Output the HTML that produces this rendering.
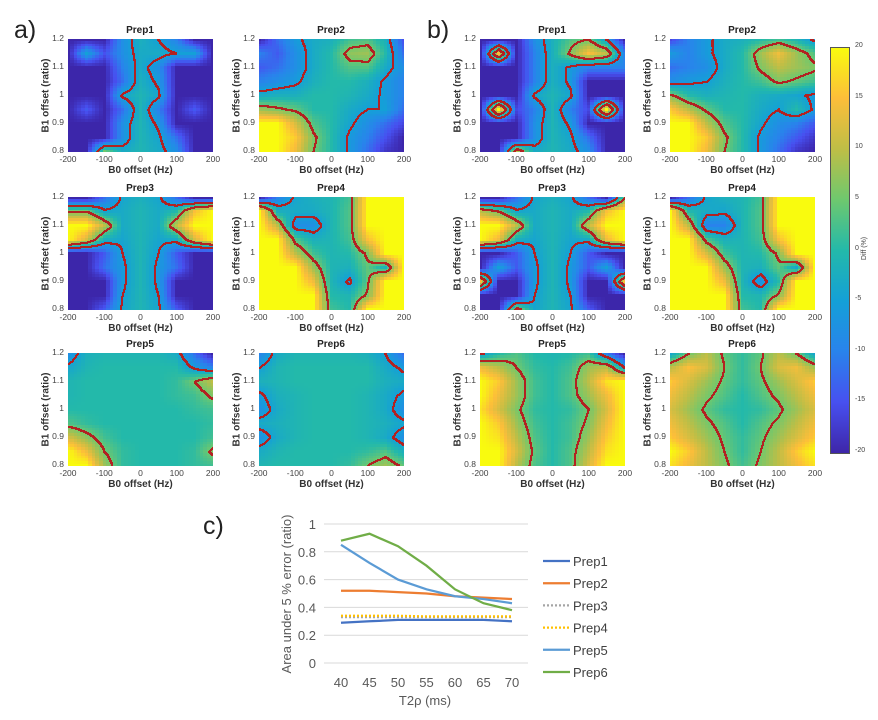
<!DOCTYPE html>
<html><head><meta charset="utf-8"><style>
body{margin:0;background:#fff;width:878px;height:720px;overflow:hidden;position:relative;font-family:"Liberation Sans",Arial,sans-serif}
.abs{position:absolute}
.lbl{position:absolute;font-size:25px;color:#222}
.ttl{position:absolute;font-size:10px;font-weight:bold;color:#222;text-align:center;width:144px}
.tk{position:absolute;font-size:8.5px;color:#444;white-space:nowrap}
.axt{position:absolute;font-size:10px;font-weight:bold;color:#333;white-space:nowrap}
canvas{position:absolute;image-rendering:pixelated}
</style></head><body>
<div class="lbl" style="left:14px;top:16px">a)</div>
<div class="lbl" style="left:427px;top:16px">b)</div>
<div class="lbl" style="left:203px;top:512px">c)</div>
<div id="maps"></div>

<div class="abs" style="left:830px;top:47px;width:18px;height:405px;border:1px solid #555;background:linear-gradient(to top,#3e26a8 0%,#4750f0 12.5%,#2983ec 25%,#14a0d7 37.5%,#23b9aa 50%,#6ec86e 62.5%,#bebe46 75%,#fcbe3a 87.5%,#f9fb0e 100%)"></div>
<div id="cbticks"></div>
<div class="abs" style="left:853px;top:245px;font-size:7px;color:#444;transform:rotate(-90deg);white-space:nowrap">Diff (%)</div>

<svg id="lc" class="abs" style="left:0;top:0" width="878" height="720"></svg>

<script>
// ---------- heatmap data (rows B1 1.2 -> 0.8, cols B0 -200 -> 200), Diff %
const aPrep1=[[-20,-20,-20,-8,-2,-5,-10,-20,-20],[-20,-5,-15,-8,-3,-3,-5,-5,-20],[-20,-20,-20,-10,-3,-8,-20,-20,-20],[-20,-20,-20,-12,-2,-6,-20,-20,-20],[-20,-20,-20,-4,-1,-4,-20,-20,-20],[-20,-14,-20,-12,-1,-10,-20,-14,-20],[-20,-20,-20,-8,-1,-6,-20,-20,-20],[-20,-20,-20,-8,-1,-4,-12,-20,-20],[-20,-20,5,-3,-1,-3,-8,-20,-20]];
const aPrep2=[[-20,-12,-6,-3,-2,2,3,-2,-15],[-10,-14,-8,-3,0,7,8,0,-12],[-14,-12,-8,-3,0,3,3,-3,-8],[-10,-8,-6,-2,0,0,-2,-6,-10],[-3,-2,-2,0,0,-1,-3,-6,-10],[8,6,4,0,0,-3,-5,-5,-12],[20,20,12,3,0,-4,-8,-12,-16],[20,20,16,6,0,-6,-10,-15,-20],[20,20,14,5,0,-6,-12,-18,-20]];
const aPrep3=[[-20,-20,-12,-4,-2,-4,-12,-20,-20],[5,5,-4,-3,-1,-3,0,15,20],[20,20,10,-3,-1,-3,10,20,20],[20,12,-2,-4,-1,-4,-3,12,20],[-20,-20,-14,-5,-1,-5,-14,-20,-20],[-20,-20,-12,-6,-1,-6,-12,-20,-20],[-20,-20,-20,-6,-1,-6,-20,-20,-20],[-20,-20,-20,-5,-1,-5,-20,-20,-20],[-20,-20,-14,-4,-1,-4,-14,-20,-20]];
const aPrep4=[[-20,-10,-4,-2,-1,2,20,20,20],[20,-2,-3,-3,-1,3,20,20,20],[20,10,-8,-8,-1,3,20,20,20],[20,20,3,-2,-1,2,15,20,20],[20,20,10,2,-1,0,6,20,20],[20,20,20,8,-1,-2,4,-2,20],[20,20,20,14,-1,-6,4,20,20],[20,20,20,20,0,-1,6,20,20],[20,20,20,20,2,0,20,20,20]];
const aPrep5=[[-8,-2,-1,-1,-1,-1,-3,-12,-20],[-4,-1,0,0,0,0,0,-6,-10],[-1,0,0,0,0,0,1,5,10],[-1,0,0,0,0,0,1,2,6],[0,0,0,0,0,0,0,1,2],[3,1,0,0,0,0,0,0,1],[12,7,2,0,0,0,0,0,2],[20,14,5,1,0,0,0,1,6],[20,20,8,1,0,0,0,1,2]];
const aPrep6=[[-10,-3,-1,-1,-1,-1,-2,-5,-12],[-5,-1,0,0,0,0,0,-3,-6],[-2,-1,0,0,0,0,0,-2,-3],[-6,-2,-1,0,0,0,-1,-3,-6],[-8,-3,-1,0,0,0,-1,-3,-8],[-3,-2,-1,0,0,0,-1,-2,-4],[-8,-3,-1,0,0,0,-1,-3,-8],[-3,-1,0,0,0,0,1,3,-2],[-1,0,0,0,0,1,5,8,4]];
const bPrep1=[[-20,-20,-20,-8,-2,3,5,-5,-20],[-20,15,-20,-10,-2,6,15,10,-10],[-20,-20,-20,-10,-2,-6,-10,-10,-10],[-20,-20,-20,-10,-2,-6,-20,-20,-20],[-20,-20,-20,-4,-1,-4,-20,-20,-20],[-20,20,-16,-10,-1,-10,-16,20,-20],[-20,-20,-20,-8,-1,-6,-20,-20,-20],[-20,-20,-20,-8,-1,-4,-12,-20,-20],[-20,-20,10,-3,-1,-3,-8,-20,-20]];
const bPrep2=[[-16,-10,-6,-3,-2,0,2,-1,-6],[-6,-10,-6,-3,0,8,14,8,3],[-12,-10,-8,-3,0,6,10,8,6],[-8,-6,-5,-2,0,2,6,4,2],[6,0,-2,-1,0,-2,-3,-4,-6],[16,10,4,0,0,-3,-5,0,-6],[20,20,10,3,0,-4,-8,-10,-14],[20,20,16,6,0,-6,-10,-14,-18],[20,20,14,5,0,-6,-12,-18,-20]];
const bPrep3=[[-20,-20,-12,-4,-2,-4,-12,-20,5],[10,5,-4,-3,-1,-3,0,15,20],[20,20,10,-3,-1,-3,10,20,20],[20,14,-2,-4,-1,-4,-3,14,20],[-20,-20,-14,-5,-1,-5,-14,-20,-20],[-20,-5,-14,-6,-1,-6,-14,-5,-20],[15,-20,-20,-6,-1,-6,-20,-20,15],[-20,-20,-20,-5,-1,-5,-20,-20,-20],[-20,-20,8,-4,-1,-4,-14,-20,-20]];
const bPrep4=[[-20,-12,-4,-2,-1,2,20,20,20],[20,0,-3,-4,-1,3,20,20,20],[20,10,-10,-10,-1,3,20,20,20],[20,20,3,-2,-1,2,15,20,20],[20,20,12,2,-1,0,6,20,20],[20,20,20,8,-1,-2,4,-4,20],[20,20,20,14,-1,-8,0,20,20],[20,20,20,20,0,-1,6,20,20],[20,20,20,20,2,0,20,20,20]];
const bPrep5=[[-6,0,3,0,-1,0,2,-10,-20],[14,10,5,1,0,2,8,10,-5],[20,16,8,2,0,3,10,18,20],[20,14,8,2,0,3,8,14,20],[18,12,6,1,0,1,5,12,20],[20,16,8,2,0,2,6,14,20],[20,18,10,3,0,2,8,16,20],[20,20,12,4,0,3,10,18,20],[20,20,10,3,0,3,12,20,20]];
const bPrep6=[[-4,5,10,4,1,4,10,5,-4],[10,15,12,5,1,5,12,14,8],[16,12,8,4,1,4,8,12,16],[14,10,6,3,0,3,6,10,14],[12,8,4,1,0,1,4,8,12],[14,10,6,3,0,3,6,10,14],[16,12,8,4,1,4,8,12,16],[20,16,10,5,1,5,10,16,20],[18,14,10,6,2,6,10,14,18]];
const xTicks=["-200","-100","0","100","200"];
const yTicks=["1.2","1.1","1","0.9","0.8"];
const cbTicks=["20","15","10","5","0","-5","-10","-15","-20"];

const stops=[[60,38,170],[71,80,240],[41,131,236],[20,160,215],[35,185,170],[110,200,110],[190,190,70],[252,190,58],[249,251,14]];
function cmap(v){let t=(Math.max(-20,Math.min(20,v))+20)/40*8;let i=Math.min(7,Math.floor(t)),f=t-i;
 return stops[i].map((c,k)=>Math.round(c+(stops[i+1][k]-c)*f));}
function field(g,fx,fy){let x0=Math.min(7,Math.floor(fx)),y0=Math.min(7,Math.floor(fy)),dx=fx-x0,dy=fy-y0;
 return g[y0][x0]*(1-dx)*(1-dy)+g[y0][x0+1]*dx*(1-dy)+g[y0+1][x0]*(1-dx)*dy+g[y0+1][x0+1]*dx*dy;}

const panels=[
 {n:"a-prep1",t:"Prep1",g:aPrep1,x:68,y:39},{n:"a-prep2",t:"Prep2",g:aPrep2,x:259,y:39},
 {n:"a-prep3",t:"Prep3",g:aPrep3,x:68,y:197},{n:"a-prep4",t:"Prep4",g:aPrep4,x:259,y:197},
 {n:"a-prep5",t:"Prep5",g:aPrep5,x:68,y:353},{n:"a-prep6",t:"Prep6",g:aPrep6,x:259,y:353},
 {n:"b-prep1",t:"Prep1",g:bPrep1,x:480,y:39},{n:"b-prep2",t:"Prep2",g:bPrep2,x:670,y:39},
 {n:"b-prep3",t:"Prep3",g:bPrep3,x:480,y:197},{n:"b-prep4",t:"Prep4",g:bPrep4,x:670,y:197},
 {n:"b-prep5",t:"Prep5",g:bPrep5,x:480,y:353},{n:"b-prep6",t:"Prep6",g:bPrep6,x:670,y:353}];
const W=145,H=113,maps=document.getElementById('maps');
function add(cls,txt,css,name){const d=document.createElement('div');d.className=cls;d.textContent=txt;d.style.cssText=css;
 
 
 maps.appendChild(d);return d;}
panels.forEach(p=>{
 const c=document.createElement('canvas');c.width=W;c.height=H;c.style.left=p.x+'px';c.style.top=p.y+'px';
 
 
 maps.appendChild(c);
 const ctx=c.getContext('2d'),img=ctx.createImageData(W,H),F=[];
 const NX=41,NY=41;
 for(let py=0;py<H;py++){F.push([]);for(let px=0;px<W;px++){
  const qx=Math.round(px/(W-1)*(NX-1))/(NX-1)*8,qy=Math.round(py/(H-1)*(NY-1))/(NY-1)*8;
  const v=field(p.g,qx,qy),s=field(p.g,px/(W-1)*8,py/(H-1)*8);F[py].push(s);
  const col=cmap(v),o=(py*W+px)*4;img.data[o]=col[0];img.data[o+1]=col[1];img.data[o+2]=col[2];img.data[o+3]=255;}}
 for(let py=0;py<H;py++)for(let px=0;px<W;px++){
  const v=F[py][px];let hit=false;
  [[1,0],[0,1]].forEach(([dx,dy])=>{const nx=px+dx,ny=py+dy;if(nx<W&&ny<H){const u=F[ny][nx];
   if(((v>5)!=(u>5))||((v>-5)!=(u>-5)))hit=true;}});
  if(hit){for(let a=0;a<2;a++)for(let b=0;b<2;b++){const X=px+a,Y=py+b;if(X<W&&Y<H){const o=(Y*W+X)*4;img.data[o]=178;img.data[o+1]=34;img.data[o+2]=34;}}}}
 ctx.putImageData(img,0,0);
 add('ttl',p.t,`left:${p.x}px;top:${p.y-14}px`,p.n+'-title');
 yTicks.forEach((t,i)=>add('tk',t,`right:${878-p.x+4}px;top:${p.y+i*(H-1)/4-6}px`,p.n+'-y-tick'));
 xTicks.forEach((t,i)=>add('tk',t,`left:${p.x+i*W/4-20}px;width:40px;text-align:center;top:${p.y+H+2}px`,p.n+'-x-tick'));
 add('axt','B0 offset (Hz)',`left:${p.x+W/2-50}px;width:100px;text-align:center;top:${p.y+H+13}px`,p.n+'-x-axis-title');
 add('axt','B1 offset (ratio)',`left:${p.x-72}px;width:100px;text-align:center;top:${p.y+H/2-6}px;transform:rotate(-90deg)`,p.n+'-y-axis-title');
});
const cbt=document.getElementById('cbticks');
cbTicks.forEach((t,i)=>{const d=document.createElement('div');d.className='tk';d.textContent=t;
 d.style.cssText=`left:855px;top:${47+i*405/8-5}px;font-size:7px`;
 
 
 cbt.appendChild(d);});
</script>

<script>
// ---------- line chart data
const t2rho=[40,45,50,55,60,65,70];
const prep1=[0.29,0.30,0.31,0.31,0.31,0.31,0.30];
const prep2=[0.52,0.52,0.51,0.50,0.48,0.47,0.46];
const prep3=[0.33,0.33,0.33,0.33,0.33,0.33,0.33];
const prep4=[0.34,0.34,0.34,0.335,0.335,0.335,0.335];
const prep5=[0.85,0.72,0.60,0.53,0.48,0.46,0.43];
const prep6=[0.88,0.93,0.84,0.70,0.53,0.43,0.38];
const yTickVals=[0,0.2,0.4,0.6,0.8,1];
const seriesNames=["Prep1","Prep2","Prep3","Prep4","Prep5","Prep6"];
const seriesData=[prep1,prep2,prep3,prep4,prep5,prep6];
const colors=["#4472c4","#ed7d31","#a5a5a5","#ffc000","#5b9bd5","#70ad47"];
const dashes=["","","2,2","2,2","",""];
const sx=v=>341+(v-40)/30*171, sy=v=>663-v*139;
const svg=document.getElementById('lc'),NS='http://www.w3.org/2000/svg';
function el(tag,attrs,name,txt){const e=document.createElementNS(NS,tag);for(const k in attrs)e.setAttribute(k,attrs[k]);
 
 
 if(txt!==undefined)e.textContent=txt;svg.appendChild(e);return e;}
yTickVals.forEach(v=>{
 el('line',{x1:324,x2:528,y1:sy(v),y2:sy(v),stroke:'#d9d9d9','stroke-width':1},'gridline');
 el('text',{x:316,y:sy(v)+5,'text-anchor':'end','font-size':13,fill:'#595959','font-family':'Liberation Sans'},'y-tick-label',String(v));
});
t2rho.forEach(v=>el('text',{x:sx(v),y:687,'text-anchor':'middle','font-size':13,fill:'#595959','font-family':'Liberation Sans'},'x-tick-label',String(v)));
el('text',{x:425,y:705,'text-anchor':'middle','font-size':13,fill:'#595959','font-family':'Liberation Sans'},'x-axis-title','T2ρ (ms)');
el('text',{x:0,y:0,'text-anchor':'middle','font-size':13,fill:'#595959','font-family':'Liberation Sans',transform:'translate(291,594) rotate(-90)'},'y-axis-title','Area under 5 % error (ratio)');
seriesData.forEach((d,i)=>{
 el('polyline',{points:d.map((v,j)=>sx(t2rho[j])+','+sy(v)).join(' '),fill:'none',stroke:colors[i],'stroke-width':2.25,'stroke-dasharray':dashes[i]},'line-'+seriesNames[i].toLowerCase());
 const ly=561+i*22.2;
 el('line',{x1:543,x2:570,y1:ly,y2:ly,stroke:colors[i],'stroke-width':2.25,'stroke-dasharray':dashes[i]},'legend-swatch');
 el('text',{x:573,y:ly+5,'font-size':13,fill:'#404040','font-family':'Liberation Sans'},'legend-entry',seriesNames[i]);
});
</script>
</body></html>
